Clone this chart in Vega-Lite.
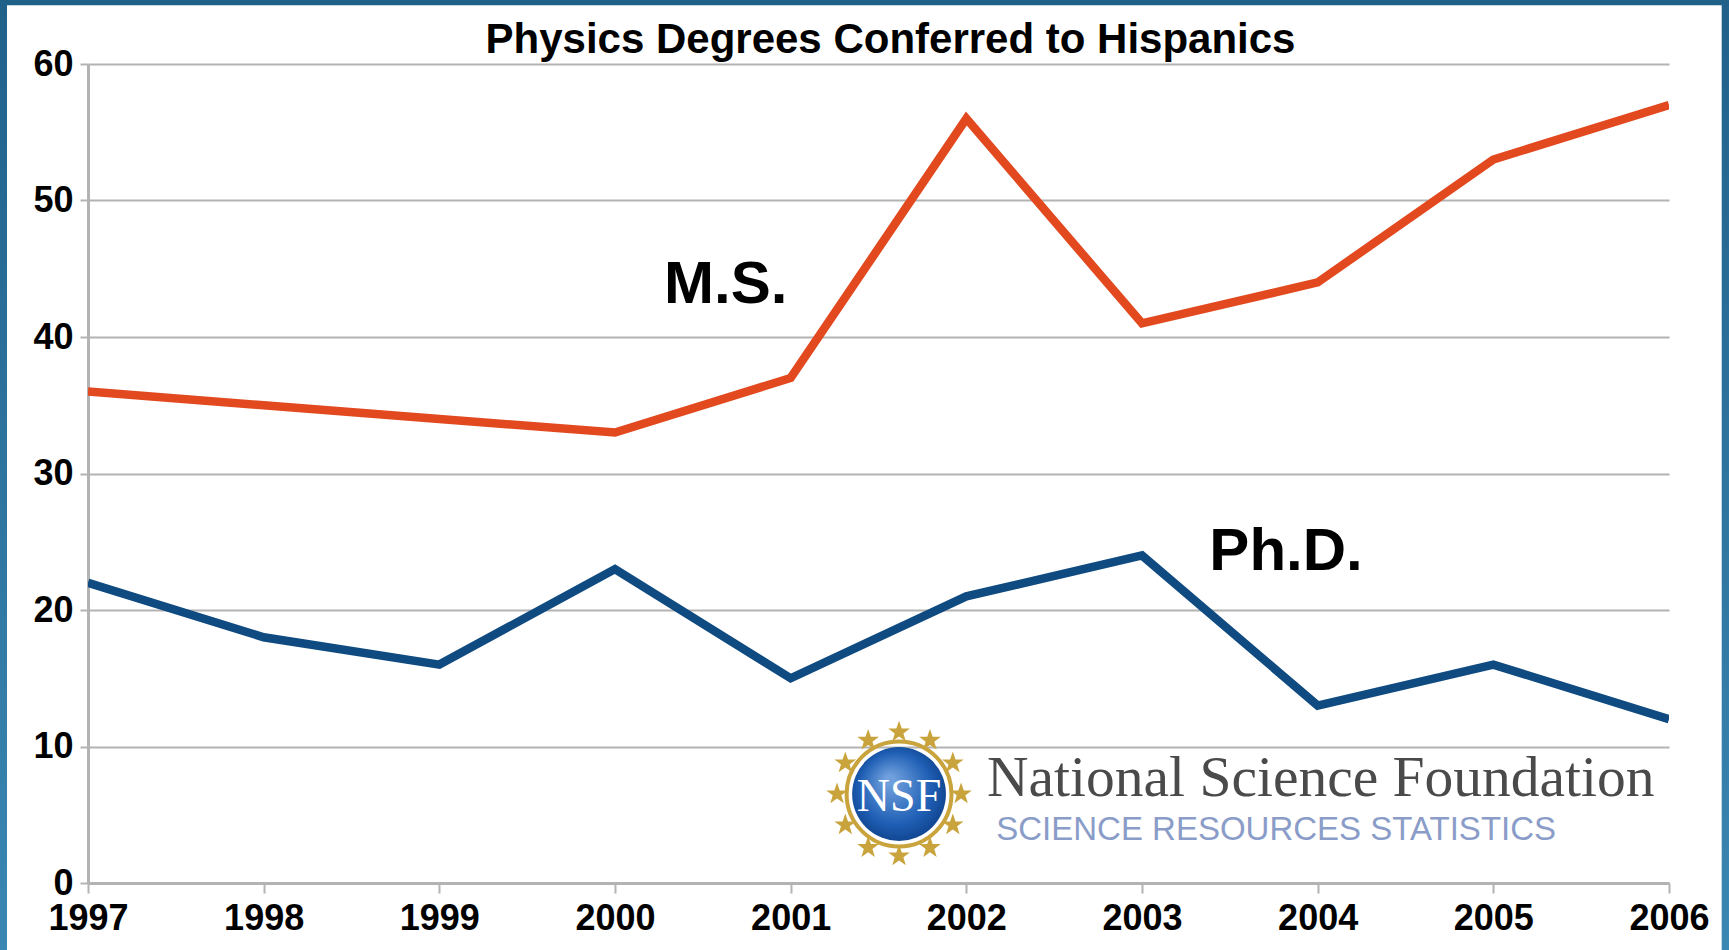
{
"$schema":"https://vega.github.io/schema/vega-lite/v6.json",
"width":1581,"height":819,
"autosize":{"type":"none"},
"padding":{"left":88,"top":64,"right":60,"bottom":67},
"background":"#ffffff",
"title":{"text":"Physics Degrees Conferred to Hispanics","font":"Liberation Sans","fontWeight":"bold","fontSize":42,"color":"#000000","anchor":"middle","dx":12,"dy":49,"offset":-13},
"config":{"view":{"stroke":null}},
"data":{"values":[
{"year":1997,"degree":"M.S.","count":36},{"year":1998,"degree":"M.S.","count":35},{"year":1999,"degree":"M.S.","count":34},{"year":2000,"degree":"M.S.","count":33},{"year":2001,"degree":"M.S.","count":37},{"year":2002,"degree":"M.S.","count":56},{"year":2003,"degree":"M.S.","count":41},{"year":2004,"degree":"M.S.","count":44},{"year":2005,"degree":"M.S.","count":53},{"year":2006,"degree":"M.S.","count":57},
{"year":1997,"degree":"Ph.D.","count":22},{"year":1998,"degree":"Ph.D.","count":18},{"year":1999,"degree":"Ph.D.","count":16},{"year":2000,"degree":"Ph.D.","count":23},{"year":2001,"degree":"Ph.D.","count":15},{"year":2002,"degree":"Ph.D.","count":21},{"year":2003,"degree":"Ph.D.","count":24},{"year":2004,"degree":"Ph.D.","count":13},{"year":2005,"degree":"Ph.D.","count":16},{"year":2006,"degree":"Ph.D.","count":12}
]},
"encoding":{
"x":{"field":"year","type":"quantitative","title":null,"scale":{"domain":[1997,2006],"nice":false,"zero":false},
"axis":{"values":[1997,1998,1999,2000,2001,2002,2003,2004,2005,2006],"format":"d","grid":false,"domainColor":"#b3b3b3","domainWidth":3,"tickColor":"#b3b3b3","tickWidth":2,"tickSize":10,"labelFont":"Liberation Sans","labelFontWeight":"bold","labelFontSize":36,"labelColor":"#000000","labelPadding":8,"labelOverlap":false,"labelBound":false,"labelFlush":false}},
"y":{"field":"count","type":"quantitative","title":null,"scale":{"domain":[0,60],"nice":false},
"axis":{"values":[0,10,20,30,40,50,60],"grid":true,"gridColor":"#b3b3b3","gridWidth":2,"domainColor":"#b3b3b3","domainWidth":3,"tickColor":"#b3b3b3","tickWidth":2,"tickSize":8,"labelFont":"Liberation Sans","labelFontWeight":"bold","labelFontSize":36,"labelColor":"#000000","labelPadding":7,"labelOverlap":false,"labelBound":false}}
},
"layer":[
{"data":{"values":[{"part":"left","a":1996.499,"b":1996.539,"c":64.69,"d":-4.91},{"part":"right","a":2006.3,"b":2006.3415,"c":64.69,"d":-4.91}]},
 "mark":{"type":"rect","clip":false,"fill":{"gradient":"linear","x1":0,"y1":0,"x2":0,"y2":1,"stops":[{"offset":0,"color":"#20618a"},{"offset":1,"color":"#3a87b3"}]}},
 "encoding":{"x":{"field":"a","type":"quantitative"},"x2":{"field":"b"},"y":{"field":"c","type":"quantitative"},"y2":{"field":"d"}}},
{"data":{"values":[{"part":"top","a":1996.499,"b":2006.3415,"c":64.69,"d":64.3}]},
 "mark":{"type":"rect","clip":false,"fill":"#20618a"},
 "encoding":{"x":{"field":"a","type":"quantitative"},"x2":{"field":"b"},"y":{"field":"c","type":"quantitative"},"y2":{"field":"d"}}},
{"mark":{"type":"line","strokeWidth":8.5,"clip":true,"strokeJoin":"miter"},
 "encoding":{"color":{"field":"degree","type":"nominal","legend":null,"scale":{"domain":["M.S.","Ph.D."],"range":["#e2491f","#0f4a80"]}}}},
{"data":{"values":[{"year":2000.63,"count":42.5,"label":"M.S."},{"year":2003.82,"count":22.9,"label":"Ph.D."}]},
 "mark":{"type":"text","font":"Liberation Sans","fontWeight":"bold","fontSize":60,"color":"#000000","align":"center","baseline":"alphabetic"},
 "encoding":{"text":{"field":"label"}}},
{"data":{"values":[
 {"year":2001.97,"count":6.52},{"year":2001.264,"count":6.52},
 {"year":2001.923,"count":8.79},{"year":2001.311,"count":8.79},{"year":2001.923,"count":4.25},{"year":2001.311,"count":4.25},
 {"year":2001.793,"count":10.45},{"year":2001.441,"count":10.45},{"year":2001.793,"count":2.59},{"year":2001.441,"count":2.59},
 {"year":2001.617,"count":11.06},{"year":2001.617,"count":1.98}
 ]},
 "mark":{"type":"point","filled":true,"color":"#c9a43c","opacity":1,"size":520,"shape":"M0,-1L0.24,-0.31L0.95,-0.31L0.38,0.12L0.59,0.81L0,0.4L-0.59,0.81L-0.38,0.12L-0.95,-0.31L-0.24,-0.31Z"}},
{"data":{"values":[{"year":2001.617,"count":6.52}]},
 "mark":{"type":"point","filled":false,"opacity":1,"stroke":"#c9a43c","strokeWidth":4,"size":11000,"shape":"circle"}},
{"data":{"values":[{"year":2001.617,"count":6.52}]},
 "mark":{"type":"point","filled":true,"opacity":1,"size":8800,"shape":"circle","color":{"gradient":"radial","x1":0.4,"y1":0.35,"r1":0.05,"x2":0.5,"y2":0.5,"r2":0.6,"stops":[{"offset":0,"color":"#6f9fdc"},{"offset":0.6,"color":"#1f5fb5"},{"offset":1,"color":"#0a3a80"}]}}},
{"data":{"values":[{"year":2001.617,"count":5.3,"label":"NSF"}]},
 "mark":{"type":"text","font":"Liberation Serif","fontSize":46,"color":"#ffffff","align":"center","baseline":"alphabetic"},
 "encoding":{"text":{"field":"label"}}},
{"data":{"values":[{"year":2002.118,"count":6.37,"label":"National Science Foundation"}]},
 "mark":{"type":"text","font":"Liberation Serif","fontSize":57.5,"color":"#4a4a4a","align":"left","baseline":"alphabetic"},
 "encoding":{"text":{"field":"label"}}},
{"data":{"values":[{"year":2002.17,"count":3.15,"label":"SCIENCE RESOURCES STATISTICS"}]},
 "mark":{"type":"text","font":"Liberation Sans","fontSize":33,"color":"#8a9cc8","align":"left","baseline":"alphabetic"},
 "encoding":{"text":{"field":"label"}}}
]
}
